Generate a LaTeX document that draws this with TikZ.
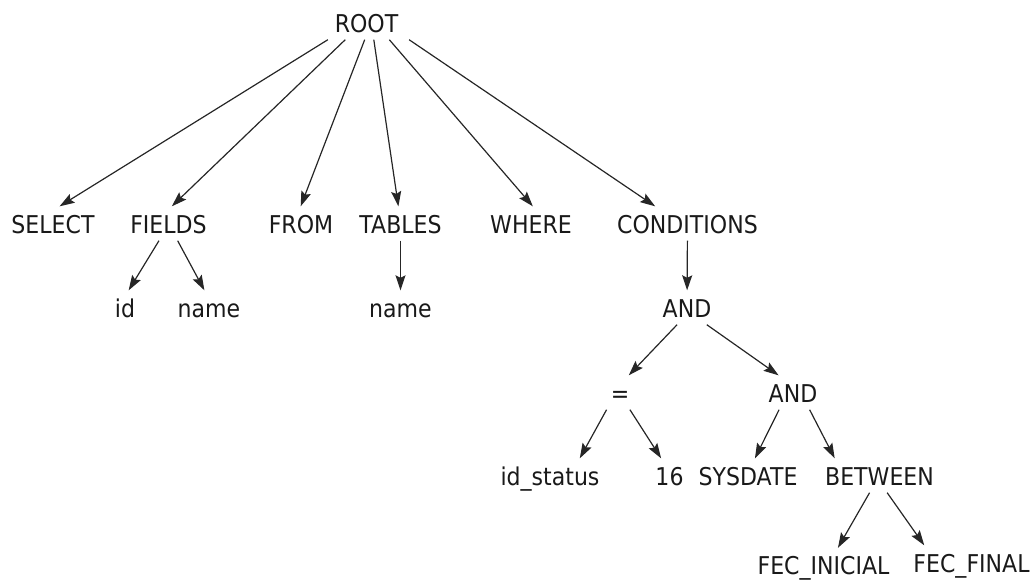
\documentclass[tikz,border=0pt]{standalone}
\usepackage{fontspec}
\newfontfamily\treefont[FakeStretch=0.9]{DejaVu Sans}
\usetikzlibrary{arrows.meta}

\begin{document}
\begin{tikzpicture}[x=1pt, y=-1pt, every node/.style={rectangle, inner xsep=14pt, inner ysep=7.5pt, text height=19pt, text depth=0pt, text=black!90, font=\treefont\fontsize{24.5}{29}\selectfont}, link/.style={-{Stealth[length=15pt, width=10pt, inset=2.5pt]}, line width=1.2pt, draw=black!85}]

		\useasboundingbox (0,0) rectangle (1035,579);

		\node (root) at (366.5, 22.5) {ROOT};

		\node (select) at (53, 223.5) {SELECT};

		\node (fields) at (168.5, 223.5) {FIELDS};

		\node (from) at (301, 223.5) {FROM};

		\node (tables) at (400.5, 223.5) {TABLES};

		\node (where) at (531, 223.5) {WHERE};

		\node (cond) at (687.5, 223.5) {CONDITIONS};

		\node (id) at (125, 307.5) {id};

		\node (name) at (209, 307.5) {name};

		\node (tname) at (400.5, 307.5) {name};

		\node (and1) at (687, 307.5) {AND};

		\node (eq) at (620, 392.5) {=};

		\node (and2) at (793, 392.5) {AND};

		\node (idstatus) at (550, 475.5) {id\_status};

		\node (sixteen) at (669.5, 475.5) {16};

		\node (sysdate) at (748, 475.5) {SYSDATE};

		\node (between) at (879.5, 475.5) {BETWEEN};

		\node (fecini) at (823.5, 565) {FEC\_INICIAL};

		\node (fecfin) at (971.5, 562.5) {FEC\_FINAL};

		\draw[link] (root.-156.7) -- (select.69.4);

		\draw[link] (root.-141.5) -- (fields.79);

		\draw[link] (root.-96.4) -- (from.91.7);

		\draw[link] (root.-67) -- (tables.97.7);

		\draw[link] (root.-37.7) -- (where.84.6);

		\draw[link] (root.-22.1) -- (cond.152);

		\draw[link] (fields.-119.2) -- (id.78.4);

		\draw[link] (fields.-62.4) -- (name.105.1);

		\draw[link] (tables) -- (tname);

		\draw[link] (cond) -- (and1);

		\draw[link] (and1.-120.7) -- (eq.63.4);

		\draw[link] (and1.-41.5) -- (and2.130.7);

		\draw[link] (eq.-128.2) -- (idstatus.30.6);

		\draw[link] (eq.-60.5) -- (sixteen.116.6);

		\draw[link] (and2.-129.9) -- (sysdate.68.5);

		\draw[link] (and2.-46) -- (between.159);

		\draw[link] (between.-120.7) -- (fecini.50.1);

		\draw[link] (between.-66.8) -- (fecfin.160.9);

	\end{tikzpicture}
\end{document}
